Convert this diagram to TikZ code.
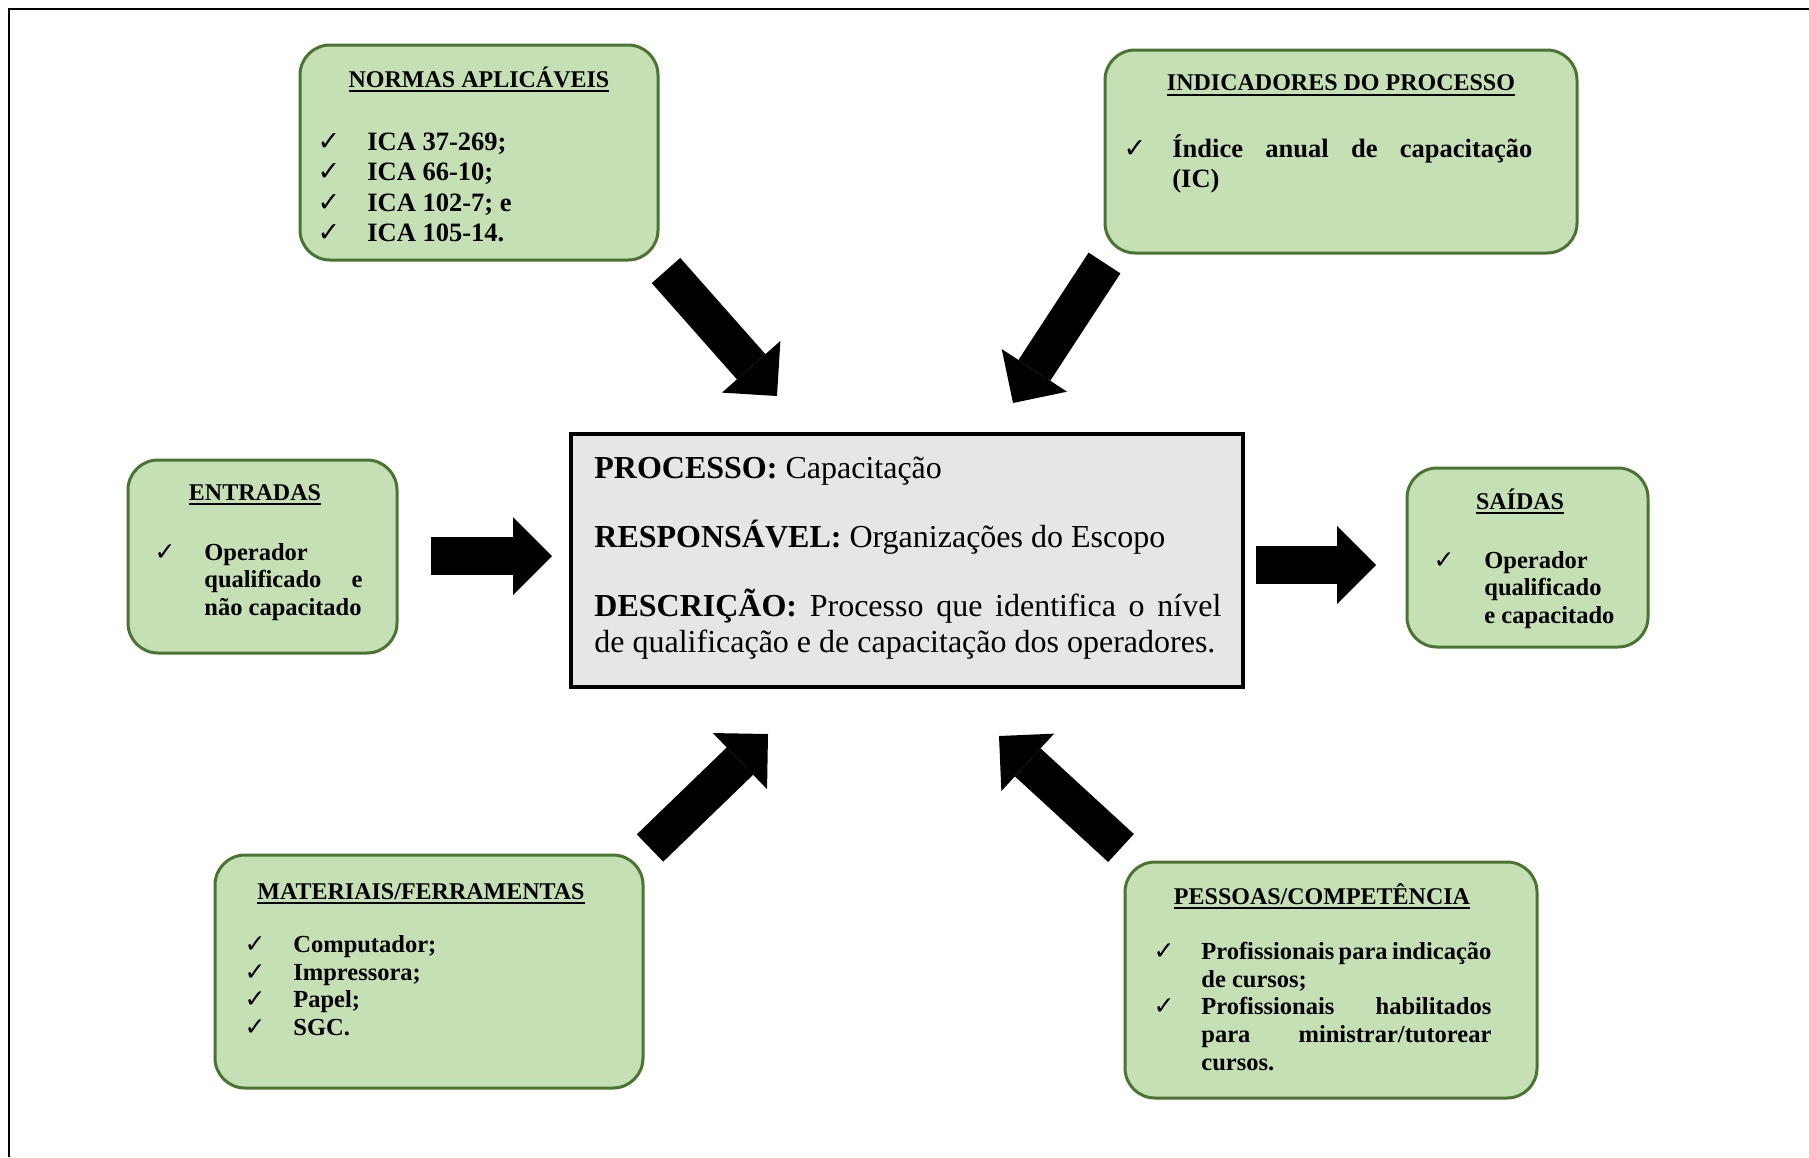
\documentclass[tikz,border=0pt]{standalone}
\usepackage{fontspec}
\setmainfont{Liberation Serif}
\newfontfamily\chkfont{DejaVu Sans}
\usetikzlibrary{arrows.meta}
\definecolor{boxfill}{HTML}{C5E0B4}
\definecolor{boxline}{HTML}{4A7431}
\definecolor{procfill}{HTML}{E7E6E6}
\newcommand{\ulttl}[1]{\setbox0=\hbox{#1}\rlap{\rule[-2.6pt]{\wd0}{1pt}}\box0}
\begin{document}
\begin{tikzpicture}[x=0.5pt,y=-0.5pt,
  gbox/.style={draw=boxline, line width=1.5pt, fill=boxfill, rounded corners=15pt, inner sep=0pt},
  procbox/.style={draw=black, line width=1.75pt, fill=procfill, inner sep=0pt},
  ttl/.style={anchor=base, inner sep=0pt, font=\bfseries\fontsize{12pt}{14pt}\selectfont},
  itm/.style={anchor=base west, inner sep=0pt, font=\bfseries\fontsize{12.25pt}{14pt}\selectfont},
  itmb/.style={anchor=base west, inner sep=0pt, font=\bfseries\fontsize{13.25pt}{15pt}\selectfont},
  chk/.style={anchor=base, inner sep=0pt, font=\chkfont\fontsize{12.5pt}{14pt}\selectfont},
  chkb/.style={anchor=base, inner sep=0pt, font=\chkfont\fontsize{13.5pt}{15pt}\selectfont},
  ptxt/.style={anchor=base west, inner sep=0pt, font=\fontsize{16pt}{18.4pt}\selectfont},
  barrow/.style={line width=19pt, -{Triangle[length=19.5pt, width=39pt, line width=0pt]}}]
\useasboundingbox (0,0) rectangle (1809,1157);
\fill[white] (0,0) rectangle (1809,1157);
% frame
\draw[line width=1.25pt] (9,1157) -- (9,9) -- (1809,9);

% boxes
\node[gbox, minimum width=179pt, minimum height=107.5pt] (normas) at (479,152.5) {};
\node[gbox, minimum width=236pt, minimum height=101.5pt] (indic) at (1341,151.5) {};
\node[gbox, minimum width=134.5pt, minimum height=96.5pt] (entr) at (262.5,556.5) {};
\node[gbox, minimum width=120.5pt, minimum height=89.5pt] (said) at (1527.5,557.5) {};
\node[gbox, minimum width=214pt, minimum height=116.5pt] (mat) at (429,971.5) {};
\node[gbox, minimum width=206pt, minimum height=118pt] (pess) at (1331,980) {};
\node[procbox, minimum width=336pt, minimum height=126.5pt] (proc) at (907,560.5) {};

% NORMAS
\node[ttl] (normasT) at (479,87) {\ulttl{NORMAS APLICÁVEIS}};
\node[chkb] (nc1) at (329,150) {✓};
\node[chkb] (nc2) at (329,180.5) {✓};
\node[chkb] (nc3) at (329,211) {✓};
\node[chkb] (nc4) at (329,241.5) {✓};
\node[itmb] (ni1) at (367,150) {ICA 37-269;};
\node[itmb] (ni2) at (367,180.5) {ICA 66-10;};
\node[itmb] (ni3) at (367,211) {ICA 102-7; e};
\node[itmb] (ni4) at (367,241.5) {ICA 105-14.};

% INDICADORES
\node[ttl] (indicT) at (1341,90.5) {\ulttl{INDICADORES DO PROCESSO}};
\node[chkb] (ic1) at (1135,157.5) {✓};
\node[itmb] (ii1) at (1172,157.5) {\makebox[180pt][s]{Índice anual de capacitação}};
\node[itmb] (ii2) at (1172,187.5) {(IC)};

% ENTRADAS
\node[ttl] (entrT) at (255,500) {\ulttl{ENTRADAS}};
\node[chk] (ec1) at (165,560) {✓};
\node[itm] (ei1) at (204,560) {Operador};
\node[itm] (ei2) at (204,587.5) {\makebox[79pt][s]{qualificado e}};
\node[itm] (ei3) at (204,615) {não capacitado};

% SAIDAS
\node[ttl] (saidT) at (1520,509) {\ulttl{SAÍDAS}};
\node[chk] (sc1) at (1444,568) {✓};
\node[itm] (si1) at (1484,568) {Operador};
\node[itm] (si2) at (1484,595.5) {qualificado};
\node[itm] (si3) at (1484,623) {e capacitado};

% MATERIAIS
\node[ttl] (matT) at (421,899) {\ulttl{MATERIAIS/FERRAMENTAS}};
\node[chk] (mc1) at (255,952) {✓};
\node[chk] (mc2) at (255,980) {✓};
\node[chk] (mc3) at (255,1007.5) {✓};
\node[chk] (mc4) at (255,1035) {✓};
\node[itm] (mi1) at (293,952) {Computador;};
\node[itm] (mi2) at (293,980) {Impressora;};
\node[itm] (mi3) at (293,1007.5) {Papel;};
\node[itm] (mi4) at (293,1035) {SGC.};

% PESSOAS
\node[ttl] (pessT) at (1322,904) {\ulttl{PESSOAS/COMPETÊNCIA}};
\node[chk] (pc1) at (1164,959) {✓};
\node[chk] (pc2) at (1164,1014.5) {✓};
\node[itm] (pi1) at (1201,959) {\makebox[145pt][s]{Profissionais para indicação}};
\node[itm] (pi2) at (1201,987) {de cursos;};
\node[itm] (pi3) at (1201,1014.5) {\makebox[145pt][s]{Profissionais habilitados}};
\node[itm] (pi4) at (1201,1042) {\makebox[145pt][s]{para ministrar/tutorear}};
\node[itm] (pi5) at (1201,1070) {cursos.};

% PROCESSO
\node[ptxt] (pl1) at (594,478) {\textbf{PROCESSO:} Capacitação};
\node[ptxt] (pl2) at (594,547) {\textbf{RESPONSÁVEL:} Organizações do Escopo};
\node[ptxt] (pl3) at (594,616) {\makebox[313.5pt][s]{\textbf{DESCRIÇÃO:} Processo que identifica o nível}};
\node[ptxt] (pl4) at (594,652) {de qualificação e de capacitação dos operadores.};

% block arrows
\coordinate (a1s) at (666,270.5);  \coordinate (a1e) at (777,396);
\coordinate (a2s) at (1104.5,263); \coordinate (a2e) at (1013,403);
\coordinate (a3s) at (431,556);    \coordinate (a3e) at (552,556);
\coordinate (a4s) at (1256,565);   \coordinate (a4e) at (1376,565);
\coordinate (a5s) at (650,848);    \coordinate (a5e) at (768,734);
\coordinate (a6s) at (1121,848);   \coordinate (a6e) at (999,736);
\draw[barrow] (a1s) -- (a1e);
\draw[barrow] (a2s) -- (a2e);
\draw[barrow] (a3s) -- (a3e);
\draw[barrow] (a4s) -- (a4e);
\draw[barrow] (a5s) -- (a5e);
\draw[barrow] (a6s) -- (a6e);
\end{tikzpicture}
\end{document}
